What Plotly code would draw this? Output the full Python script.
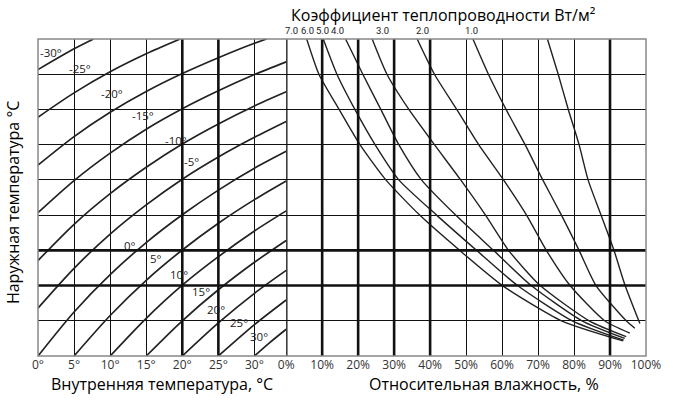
import plotly.graph_objects as go

# ---------------- data ----------------
# Left panel: indoor temperature (x, °C) vs. scale units (y), one curve per outdoor temperature
outdoor_labels = [-30, -25, -20, -15, -10, -5, 0, 5, 10, 15, 20, 25, 30]
outdoor_x = [
    [0, 5, 7.7],
    [0, 5, 10, 15, 19.7],
    [0, 5, 10, 15, 20, 25, 30, 31.7],
    [0, 5, 10, 15, 20, 25, 30, 34.4],
    [0, 5, 10, 15, 20, 25, 30, 34.4],
    [0, 5, 10, 15, 20, 25, 30, 34.4],
    [0, 5, 10, 15, 20, 25, 30, 34.4],
    [5, 10, 15, 20, 25, 30, 34.4],
    [10, 15, 20, 25, 30, 34.4],
    [15, 20, 25, 30, 34.4],
    [20, 25, 30, 34.4],
    [25, 30, 34.4],
    [30, 32, 34.4],
]
outdoor_y = [
    [8.13, 8.72, 9.0],
    [6.78, 7.47, 8.07, 8.58, 9.0],
    [5.42, 6.23, 6.92, 7.51, 8.02, 8.47, 8.88, 9.0],
    [4.07, 4.98, 5.76, 6.44, 7.02, 7.53, 7.99, 8.35],
    [2.71, 3.74, 4.61, 5.36, 6.02, 6.59, 7.10, 7.50],
    [1.36, 2.49, 3.46, 4.29, 5.02, 5.65, 6.21, 6.66],
    [0.0, 1.25, 2.31, 3.22, 4.01, 4.71, 5.33, 5.81],
    [0.0, 1.15, 2.15, 3.01, 3.77, 4.44, 4.97],
    [0.0, 1.07, 2.01, 2.82, 3.55, 4.12],
    [0.0, 1.00, 1.88, 2.66, 3.28],
    [0.0, 0.94, 1.78, 2.43],
    [0.0, 0.89, 1.59],
    [0.0, 0.36, 0.76],
]
# label positions (°C, units)
outdoor_label_x = [1.85, 5.76, 10.2, 14.5, 19.1, 21.3, 12.7, 16.3, 19.5, 22.6, 24.7, 27.8, 30.7]
outdoor_label_y = [8.61, 8.15, 7.46, 6.84, 6.13, 5.52, 3.13, 2.77, 2.30, 1.83, 1.31, 0.94, 0.55]

# Right panel: relative humidity (x, %) for each heat-transfer coefficient
coef_labels = ["7.0", "6.0", "5.0", "4.0", "3.0", "2.0", "1.0"]
coef_label_x = [1.6, 5.85, 10.1, 14.35, 26.9, 37.95, 51.6]
humid_x = [
    [5.7, 9.1, 14.7, 20.5, 27.7, 37.1, 48.2, 60.1, 76.5, 93.6],
    [10.3, 14.1, 19.1, 24.7, 31.3, 41.8, 52.9, 64.3, 79.5, 93.8],
    [16.5, 21.3, 26.3, 31.3, 37.6, 47.1, 57.6, 68.1, 82.2, 94.1],
    [23.9, 28.0, 34.1, 41.2, 48.5, 55.4, 61.8, 70.6, 84.2, 94.5],
    [36.4, 41.2, 47.4, 53.5, 60.4, 66.8, 72.3, 78.9, 88.5, 95.5],
    [51.9, 56.2, 61.1, 66.4, 71.3, 76.5, 81.4, 86.1, 94.5, 96.9],
    [72.6, 75.6, 78.4, 81.4, 83.9, 87.5, 91.1, 94.2, 98.3],
]
humid_y = [
    [9, 8, 7, 6, 5, 4, 3, 2, 1, 0.43],
    [9, 8, 7, 6, 5, 4, 3, 2, 1, 0.45],
    [9, 8, 7, 6, 5, 4, 3, 2, 1, 0.50],
    [9, 8, 7, 6, 5, 4, 3, 2, 1, 0.55],
    [9, 8, 7, 6, 5, 4, 3, 2, 1, 0.65],
    [9, 8, 7, 6, 5, 4, 3, 2, 1, 0.79],
    [9, 8, 7, 6, 5, 4, 3, 2, 0.92],
]

# axes / grid
temp_ticks = [0, 5, 10, 15, 20, 25, 30]
temp_ticktext = ["0°", "5°", "10°", "15°", "20°", "25°", "30°"]
temp_range = [0, 34.4]
hum_ticks = [0, 10, 20, 30, 40, 50, 60, 70, 80, 90, 100]
hum_ticktext = ["0%", "10%", "20%", "30%", "40%", "50%", "60%", "70%", "80%", "90%", "100%"]
y_ticks = [0, 1, 2, 3, 4, 5, 6, 7, 8, 9]
thick_temp = [20, 25]
thick_hum = [0, 10, 20, 30, 40, 90]
thick_y = [2, 3]

FONT = "Open Sans"
INK = "#000"

fig = go.Figure()

for xs, ys in zip(outdoor_x, outdoor_y):
    fig.add_trace(go.Scatter(x=xs, y=ys, mode="lines", xaxis="x", yaxis="y",
                             line=dict(color="#222", width=1.7, shape="spline", smoothing=0.8),
                             hoverinfo="skip", showlegend=False, cliponaxis=True))
for xs, ys in zip(humid_x, humid_y):
    fig.add_trace(go.Scatter(x=xs, y=ys, mode="lines", xaxis="x2", yaxis="y",
                             line=dict(color="#222", width=1.4, shape="spline", smoothing=0.6),
                             hoverinfo="skip", showlegend=False, cliponaxis=True))

split = (287 - 38) / 610.0

fig.update_layout(
    width=673, height=404,
    margin=dict(l=38, r=25, t=39, b=48),
    paper_bgcolor="white", plot_bgcolor="white",
    font=dict(family=FONT, color=INK, size=12),
    xaxis=dict(domain=[0, split], range=temp_range, tickvals=temp_ticks, ticktext=temp_ticktext,
               showgrid=True, gridcolor="#111", gridwidth=1.2, zeroline=False, showline=False,
               ticks="", tickfont=dict(size=12, color="#333"), anchor="y", fixedrange=True),
    xaxis2=dict(domain=[split, 1], range=[0, 100], tickvals=hum_ticks, ticktext=hum_ticktext,
                showgrid=True, gridcolor="#111", gridwidth=1.2, zeroline=False, showline=False,
                ticks="", tickfont=dict(size=12, color="#333"), anchor="y", fixedrange=True),
    yaxis=dict(range=[0, 9], tickvals=y_ticks, showticklabels=False, showgrid=True,
               gridcolor="#111", gridwidth=1.2, zeroline=False, showline=False, ticks="", fixedrange=True),
)

shapes = []
for v in thick_temp:
    shapes.append(dict(type="line", xref="x", yref="y", x0=v, x1=v, y0=0, y1=9,
                       line=dict(color="#111", width=2.6)))
for v in thick_hum:
    shapes.append(dict(type="line", xref="x2", yref="y", x0=v, x1=v, y0=0, y1=9,
                       line=dict(color="#111", width=2.6)))
for v in thick_y:
    shapes.append(dict(type="line", xref="paper", yref="y", x0=0, x1=1, y0=v, y1=v,
                       line=dict(color="#111", width=2.6)))
shapes.append(dict(type="rect", xref="paper", yref="paper", x0=0, x1=1, y0=0, y1=1,
                   line=dict(color="#888", width=1.5)))
fig.update_layout(shapes=shapes)

ann = []
for lab, lx, ly in zip(outdoor_labels, outdoor_label_x, outdoor_label_y):
    ann.append(dict(x=lx, y=ly, xref="x", yref="y", text=f"{lab}°", showarrow=False,
                    xanchor="center", yanchor="middle",
                    font=dict(size=11.5, color="#222", family=FONT)))
for lab, lx in zip(coef_labels, coef_label_x):
    ann.append(dict(x=lx, y=(356 - 31) / 317, xref="x2", yref="paper", text=lab, showarrow=False,
                    xanchor="center", yanchor="middle",
                    font=dict(size=9.5, color="#222", family="Roboto")))


def paper_text(text, px, py, angle=0):
    return dict(x=(px - 38) / 610, y=(356 - py) / 317, xref="paper", yref="paper",
                text=text, showarrow=False, xanchor="center", yanchor="middle",
                textangle=angle, font=dict(size=16, color="#000", family=FONT))


ann.append(paper_text("Коэффициент теплопроводности Вт/м²", 444, 15))
ann.append(paper_text("Внутренняя температура, °C", 162, 384))
ann.append(paper_text("Относительная влажность, %", 485, 384))
ann.append(paper_text("Наружная температура °C", 13, 203, angle=-90))
fig.update_layout(annotations=ann)

fig.write_html("out.html", config={"displayModeBar": False},
               post_script="document.body.style.margin='0px';")
